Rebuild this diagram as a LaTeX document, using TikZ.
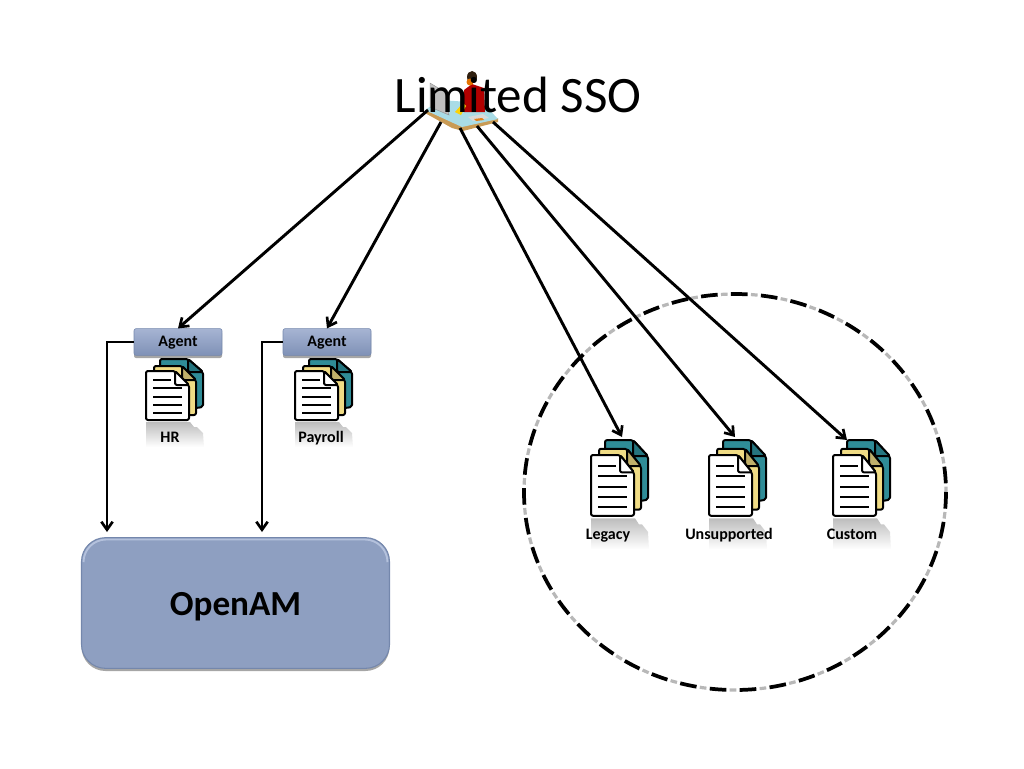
\documentclass[tikz,border=0pt]{standalone}
\usepackage{fontspec}
\setmainfont{Carlito}
\usetikzlibrary{arrows.meta}
\usetikzlibrary{shadows}
\definecolor{boxblue}{HTML}{8E9FC1}
\definecolor{boxedge}{HTML}{7487AC}
\definecolor{boxlight}{HTML}{B4C1DC}
\definecolor{agentdark}{HTML}{7F91B7}
\definecolor{agenttop}{HTML}{A6B4D2}
\definecolor{docteal}{HTML}{2F8C97}
\definecolor{docfold}{HTML}{25757F}
\definecolor{docyellow}{HTML}{F0DC85}
\definecolor{deskedge}{HTML}{C99B55}
\definecolor{desktop}{HTML}{A9DCE6}
\tikzset{
	flow/.style={-{Straight Barb[length=6pt,width=8.5pt,line width=2pt]}, line width=2.2pt, black},
	softshadow/.style={drop shadow={shadow xshift=0pt, shadow yshift=-2pt, opacity=0.35, fill=black}},
	agentbox/.style={draw=boxedge, rounded corners=1.5pt, top color=agenttop, bottom color=agentdark, minimum width=66pt, minimum height=20pt, inner sep=0pt, text height=8.5pt, text depth=2pt, font=\bfseries\fontsize{12pt}{13pt}\selectfont, softshadow},
	doclabel/.style={font=\bfseries\fontsize{12pt}{13pt}\selectfont, inner sep=0pt, anchor=base},
	docsheet/.style={line width=1.5pt, line join=round, rounded corners=1.5pt},
	docstack/.pic={
		% reflection under the stack
		\shade[top color=black!26, bottom color=white, draw=none] (0,51) -- (44,51) -- (48,56) -- (51,56) -- (57,62) -- (58,76) -- (0,76) -- cycle;
		% back sheets
		\draw[docsheet, fill=docteal] (14,-12) -- (42,-12) -- (57,1) -- (57,36) -- (50,37) -- (14,37) -- cycle;
		\draw[docsheet, fill=docfold] (42,-12) -- (42,1) -- (57,1) -- cycle;
		\draw[docsheet, fill=docyellow] (8,-5) -- (36,-5) -- (50,9) -- (50,44) -- (8,44) -- cycle;
		\draw[docsheet, fill=docyellow!80!black] (36,-5) -- (36,9) -- (50,9) -- cycle;
		% front sheet
		\draw[docsheet, fill=white] (0,0) -- (29,0) -- (43,14) -- (43,49) -- (0,49) -- cycle;
		\draw[docsheet, fill=white] (29,0) -- (29,14) -- (43,14) -- cycle;
		\draw[line width=1.2pt] (7,9) -- (25,9);
		\foreach \liney in {17,26,34,42}
			\draw[line width=1.2pt] (7,\liney) -- (36,\liney);
	},
}
\begin{document}
\begin{tikzpicture}[x=0.75pt, y=-0.75pt]
	\useasboundingbox (0,0) rectangle (1024,768);
	% person at the desk
	\fill[deskedge] (425,110) -- (462,126) -- (498,118) -- (498,122) -- (463,131) -- (452,128) -- (425,113) -- cycle;
	\fill[desktop] (425,110) -- (462,127) -- (498,119) -- (483,103) -- (440,100) -- cycle;
	\fill[white!85!black] (468,117) -- (483,114) -- (489,118) -- (473,121) -- cycle;
	\fill[orange!60!brown] (474,119) -- (482,118) -- (484,120) -- (476,121) -- cycle;
	\fill[red!70!black] (464,90) -- (472,84) -- (484,88) -- (485,112) -- (464,112) -- cycle;
	\fill[black!75!brown] (472,77) circle [x radius=5, y radius=6];
	\fill[orange!90!black] (470,82) circle [x radius=3.5, y radius=3.5];
	\fill[yellow!70!orange] (455,112) -- (463,103) -- (466,106) -- (461,115) -- cycle;
	\fill[black!25, draw=black!45, line width=0.3pt] (430,83) -- (445,92) -- (449,115) -- (430,107) -- cycle;
	\node[font=\fontsize{38.3pt}{40pt}\selectfont, inner sep=0pt, anchor=base] (title) at (518,112) {Limited SSO};
	% start points on the desk
	\coordinate (deska) at (428,110);
	\coordinate (deskb) at (441,122);
	\coordinate (deskc) at (460,128);
	\coordinate (deskd) at (477,126);
	\coordinate (deske) at (493,122);
	% dashed zone
	\draw[black!28, line width=2.4pt, dash pattern=on 5pt off 17.5pt, dash phase=7.5pt] (735,492) ellipse [x radius=211, y radius=198];
	\draw[black, line width=2.8pt, dash pattern=on 12.5pt off 10pt] (735,492) ellipse [x radius=211, y radius=198];
	% documents
	\pic at (146,371) {docstack};
	\pic at (295,371) {docstack};
	\pic[yscale=1.24] at (591,455) {docstack};
	\pic[yscale=1.24] at (709,455) {docstack};
	\pic[yscale=1.24] at (833,455) {docstack};
	\node[doclabel] (hr) at (170,442) {HR};
	\node[doclabel] (payroll) at (321,442) {Payroll};
	\node[doclabel] (legacy) at (608,539) {Legacy};
	\node[doclabel] (unsupported) at (729,539) {Unsupported};
	\node[doclabel] (custom) at (852,539) {Custom};
	% agents and server
	\node[agentbox] (agenthr) at (178,342) {Agent};
	\node[agentbox] (agentpay) at (327,342) {Agent};
	\node[draw=boxedge, line width=0.8pt, fill=boxblue, rounded corners=18pt, minimum width=231pt, minimum height=98pt, inner sep=0pt, text height=24pt, text depth=6pt, font=\bfseries\fontsize{26.4pt}{28pt}\selectfont, softshadow] (openam) at (235.5,603) {OpenAM};
	\draw[boxlight, line width=1.4pt, rounded corners=17pt] (83.5,562) -- (83.5,539.5) -- (387.5,539.5) -- (387.5,562);
	\coordinate (hrin) at (107,532);
	\coordinate (payin) at (262,532);
	\coordinate (legacyin) at (622,437);
	\coordinate (unsupin) at (735,437);
	\coordinate (customin) at (847,440);
	% connectors
	\draw[flow] (deska) -- (agenthr.north);
	\draw[flow] (deskb) -- (agentpay.north);
	\draw[flow] (deskc) -- (legacyin);
	\draw[flow] (deskd) -- (unsupin);
	\draw[flow] (deske) -- (customin);
	\draw[flow] (agenthr.west) -| (hrin);
	\draw[flow] (agentpay.west) -| (payin);
\end{tikzpicture}
\end{document}
